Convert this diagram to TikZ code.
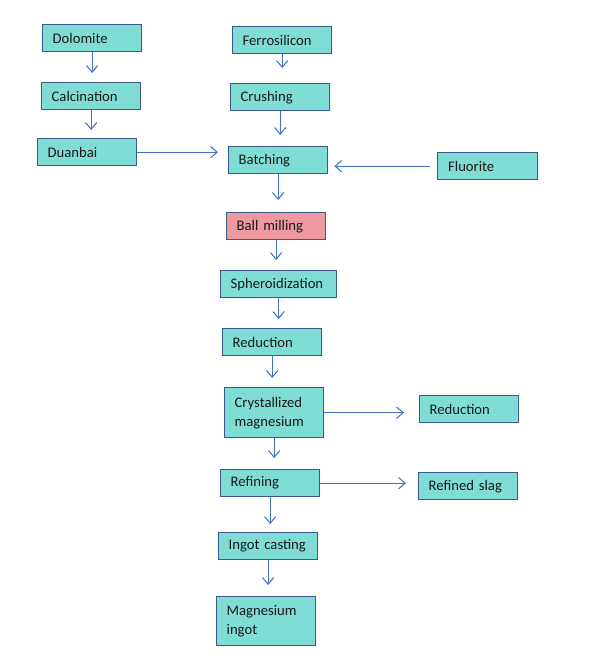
\documentclass[tikz,border=0pt]{standalone}
\usepackage{fontspec}
\setmainfont{Carlito}
\usetikzlibrary{arrows.meta}
\definecolor{boxfill}{HTML}{7FDDD5}
\definecolor{pinkfill}{HTML}{EE98A0}
\definecolor{boxline}{HTML}{3A5A8C}
\definecolor{arrowcol}{HTML}{4472C4}
\tikzset{
  bx/.style={draw=boxline, line width=1pt, fill=boxfill, anchor=north west,
    minimum width=74.25pt, minimum height=20.25pt, text width=59.25pt,
    inner xsep=7.5pt, inner ysep=0pt, align=left,
    font=\fontsize{11}{14.25}\selectfont, text=black!90},
  tall/.style={minimum height=37.5pt},
  arr/.style={draw=arrowcol, line width=0.8pt, -{Straight Barb[length=5pt,width=8.5pt]}},
}
\begin{document}
\begin{tikzpicture}[x=0.75pt,y=-0.75pt]
\useasboundingbox (0,0) rectangle (591,658);
\node[bx] (dol) at (42,24) {Dolomite};
\node[bx] (cal) at (41,82) {Calcination};
\node[bx] (dua) at (37,138) {Duanbai};
\node[bx] (fer) at (232,26) {Ferrosilicon};
\node[bx] (cru) at (230,83) {Crushing};
\node[bx] (bat) at (228,146) {Batching};
\node[bx, minimum width=75pt] (flu) at (437,152) {Fluorite};
\node[bx, fill=pinkfill] (bal) at (226,212) {Ball milling};
\node[bx, minimum width=87pt, text width=72pt] (sph) at (220,270) {Spheroidization};
\node[bx] (red) at (222,328) {Reduction};
\node[bx, tall] (cry) at (224,387) {Crystallized\\magnesium};
\node[bx] (red2) at (419,395) {Reduction};
\node[bx] (ref) at (220,469) {Refining};
\node[bx] (sla) at (418,472) {Refined slag};
\node[bx] (ing) at (218,532) {Ingot casting};
\node[bx, minimum height=36.75pt] (mag) at (216,596) {Magnesium\\ingot};

\draw[arr, shorten >=6.75pt] (dol.south) -- (dol.south |- cal.north);
\draw[arr, shorten >=6pt] (cal.south) -- (cal.south |- dua.north);
\draw[arr, shorten >=11.25pt] (fer.south) -- (fer.south |- cru.north);
\draw[arr, shorten >=8.25pt] (cru.south) -- (cru.south |- bat.north);
\draw[arr, shorten >=9pt] (bat.south) -- (bat.south |- bal.north);
\draw[arr, shorten >=7.5pt] (bal.south) -- (bal.south |- sph.north);
\draw[arr, shorten >=6.75pt] (sph.south) -- (sph.south |- red.north);
\draw[arr, shorten >=6.75pt] (red.south) -- (red.south |- cry.north);
\draw[arr, shorten >=8.25pt] (cry.south) -- (cry.south |- ref.north);
\draw[arr, shorten >=6pt] (ref.south) -- (ref.south |- ing.north);
\draw[arr, shorten >=8.25pt] (ing.south) -- (ing.south |- mag.north);
\draw[arr, shorten >=7.5pt] (dua.east) -- (dua.east -| bat.west);
\draw[arr, shorten <=5.25pt, shorten >=4.5pt] (flu.west) -- (flu.west -| bat.east);
\draw[arr, shorten >=11.25pt] (cry.east) -- (cry.east -| red2.west);
\draw[arr, shorten >=9pt] (ref.east) -- (ref.east -| sla.west);
\end{tikzpicture}
\end{document}
